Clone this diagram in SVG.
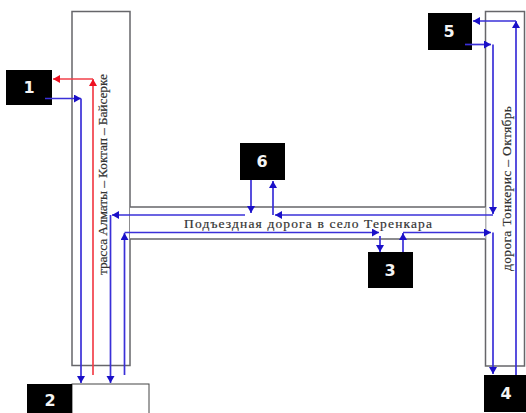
<svg xmlns="http://www.w3.org/2000/svg" width="526" height="413" viewBox="0 0 526 413">
<style>
.road{fill:#fff;stroke:#66666a;stroke-width:1.5}
.box{fill:#000}
.num{font:bold 16px "DejaVu Sans",sans-serif;fill:#f4f4f4;text-anchor:middle}
.lbl{font-family:"Liberation Serif",serif;font-size:13.5px;fill:#333;stroke:#333;stroke-width:.2}
.b{fill:none;stroke:#3a30d8;stroke-width:1.7}
.r{fill:none;stroke:#f2404a;stroke-width:1.7}
</style>
<defs>
<marker id="ab" markerUnits="userSpaceOnUse" markerWidth="9" markerHeight="9" refX="7" refY="4" orient="auto"><path d="M0 0L7 4L0 8z" fill="#1a10c8"/></marker>
<marker id="ar" markerUnits="userSpaceOnUse" markerWidth="9" markerHeight="9" refX="7" refY="4" orient="auto"><path d="M0 0L7 4L0 8z" fill="#ee1020"/></marker>
</defs>
<g id="roads">
<rect class="road" x="72" y="11.500" width="58" height="354"/>
<rect class="road" x="485.500" y="11.500" width="39" height="354.500"/>
<path d="M130 207H485.500V239H130z" fill="#fff"/>
<path d="M130 207H485.500M130 239H485.500" fill="none" stroke="#66666a" stroke-width="1.500"/>
</g>
<g id="node-1"><rect class="box" x="6" y="70" width="46" height="35"/><text class="num" x="29" y="93">1</text></g>
<g id="node-2"><rect x="72" y="384" width="77" height="30" fill="#fff" stroke="#444" stroke-width="1"/><rect class="box" x="27" y="384" width="45" height="29"/><text class="num" x="50" y="406">2</text></g>
<g id="node-3"><rect class="box" x="368" y="252" width="45" height="36"/><text class="num" x="390" y="276">3</text></g>
<g id="node-4"><rect class="box" x="484" y="375" width="42" height="37"/><text class="num" x="506" y="399">4</text></g>
<g id="node-5"><rect class="box" x="428" y="13" width="44" height="37"/><text class="num" x="449" y="37">5</text></g>
<g id="node-6"><rect class="box" x="240" y="143" width="45" height="37"/><text class="num" x="262" y="167">6</text></g>
<g id="labels">
<text class="lbl" transform="translate(107 275) rotate(-90)" textLength="201">трасса Алматы – Коктап – Байсерке</text>
<text class="lbl" transform="translate(511 271) rotate(-90)" textLength="165">дорога  Тонкерис – Октябрь</text>
<text class="lbl" x="184" y="228" textLength="248">Подъездная дорога в село Теренкара</text>
</g>
<g id="connectors">
<path class="r" d="M93 375V79" marker-end="url(#ar)"/>
<path class="r" d="M93 79H53" marker-end="url(#ar)"/>
<path class="b" d="M45 98.500H81" marker-end="url(#ab)"/>
<path class="b" d="M81 98.500V383" marker-end="url(#ab)"/>
<path class="b" d="M245 215H112" marker-end="url(#ab)"/>
<path class="b" d="M110.500 215V383" marker-end="url(#ab)"/>
<path class="b" d="M124.500 375V233" marker-end="url(#ab)"/>
<path class="b" d="M124.500 232.500H379" marker-end="url(#ab)"/>
<path class="b" d="M380 236V252" marker-end="url(#ab)"/>
<path class="b" d="M403 252V233" marker-end="url(#ab)"/>
<path class="b" d="M403 232.500H491" marker-end="url(#ab)"/>
<path class="b" d="M493 232.500V374" marker-end="url(#ab)"/>
<path class="b" d="M251 180V213" marker-end="url(#ab)"/>
<path class="b" d="M273 215V181" marker-end="url(#ab)"/>
<path class="b" d="M493 215H275" marker-end="url(#ab)"/>
<path class="b" d="M465 44.500H491" marker-end="url(#ab)"/>
<path class="b" d="M493 44.500V214" marker-end="url(#ab)"/>
<path class="b" d="M516 375V21" marker-end="url(#ab)"/>
<path class="b" d="M516 21H473" marker-end="url(#ab)"/>
</g>
</svg>
